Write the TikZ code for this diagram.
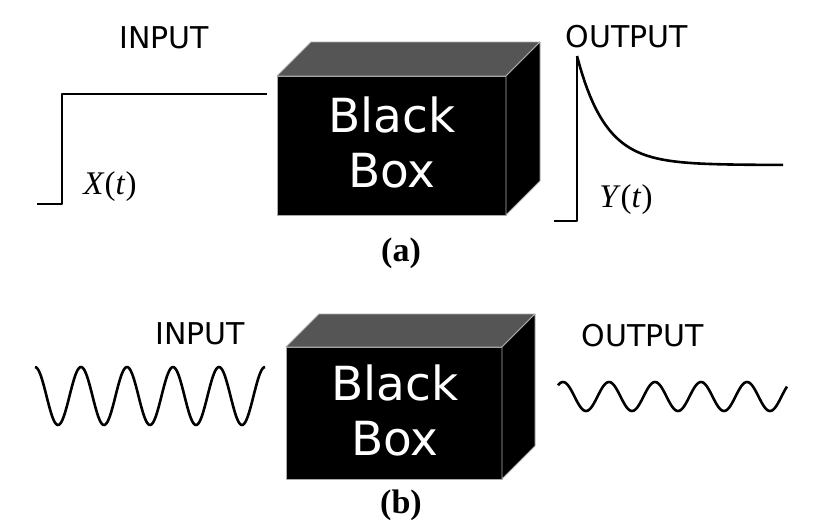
\documentclass[tikz,border=0pt]{standalone}
\usepackage{fontspec}
\setmainfont{DejaVu Sans}
\newfontfamily\serif{Liberation Serif}
\usepackage{tikz}
\usetikzlibrary{calc}
\definecolor{boxtop}{RGB}{85,85,85}
\definecolor{boxedge}{RGB}{170,170,170}
\newcommand{\cube}[5]{
    \filldraw[fill=black, draw=boxedge, line width=0.8pt] ( #1 , #2 ) rectangle ( #3 , #4 );
    \filldraw[fill=boxtop, draw=boxedge, line width=0.8pt] ( #1 , #2 ) -- ++( #5 , -#5 ) -- ( #3+#5 , #2-#5 ) -- ( #3 , #2 ) -- cycle;
    \filldraw[fill=black, draw=boxedge, line width=0.8pt] ( #3 , #2 ) -- ( #3+#5 , #2-#5 ) -- ( #3+#5 , #4-#5 ) -- ( #3 , #4 ) -- cycle;}
\newcommand{\boxfont}{\fontsize{47}{55}\selectfont}
\newcommand{\labfont}{\fontsize{30}{34}\selectfont}

\begin{document}
\begin{tikzpicture}[x=1pt, y=-1pt, line join=round]
        \useasboundingbox (0,0) rectangle (821,520);
        \tikzset{sig/.style={line width=2.6pt}, lab/.style={inner sep=0pt, font=\labfont}}
        % row1
        \cube{277}{76}{506}{215}{34}
        \node[anchor=base, text=white, inner sep=0pt, font=\boxfont] (blackA) at (392,132) {Black};
        \node[anchor=base, text=white, inner sep=0pt, font=\boxfont] (boxA) at (392,187) {Box};

        \node[lab] (inA) at (164,38) {INPUT};
        \node[lab] (outA) at (627,37) {OUTPUT};

        \draw[sig] (37,204) -- (62,204) -- (62,94) -- (267,94);
        \draw[sig] (554,221) -- (577,221) -- (577,56);
        \draw[sig] plot[domain=577:783, samples=80] ({\x},{165-109*exp(-(\x-577)/28.5)});

        \node[inner sep=0pt, font=\serif\fontsize{33}{35}\selectfont] (xlab) at (110,187) {\itshape X\/\upshape(\itshape t\/\upshape)};
        \node[inner sep=0pt, font=\serif\fontsize{33}{35}\selectfont] (ylab) at (626,200) {\itshape Y\/\upshape(\itshape t\/\upshape)};
        \node[inner sep=0pt, font=\serif\bfseries\fontsize{34}{36}\selectfont] (capA) at (401,253) {(a)};

        % row2
        \cube{286}{347}{502}{479}{33}
        \node[anchor=base, text=white, inner sep=0pt, font=\boxfont] (blackB) at (395,400) {Black};
        \node[anchor=base, text=white, inner sep=0pt, font=\boxfont] (boxB) at (395,455) {Box};

        \node[lab] (inB) at (200,334) {INPUT};
        \node[lab] (outB) at (643,336) {OUTPUT};

        \draw[sig] plot[domain=35:265, samples=200] ({\x},{396-29*cos(7.8261*(\x-35))});
        \draw[sig] plot[domain=558:787, samples=200] ({\x},{396.5-14.5*cos(7.8261*(\x-563))});

        \node[inner sep=0pt, font=\serif\bfseries\fontsize{34}{36}\selectfont] (capB) at (401,505) {(b)};
    \end{tikzpicture}
\end{document}
